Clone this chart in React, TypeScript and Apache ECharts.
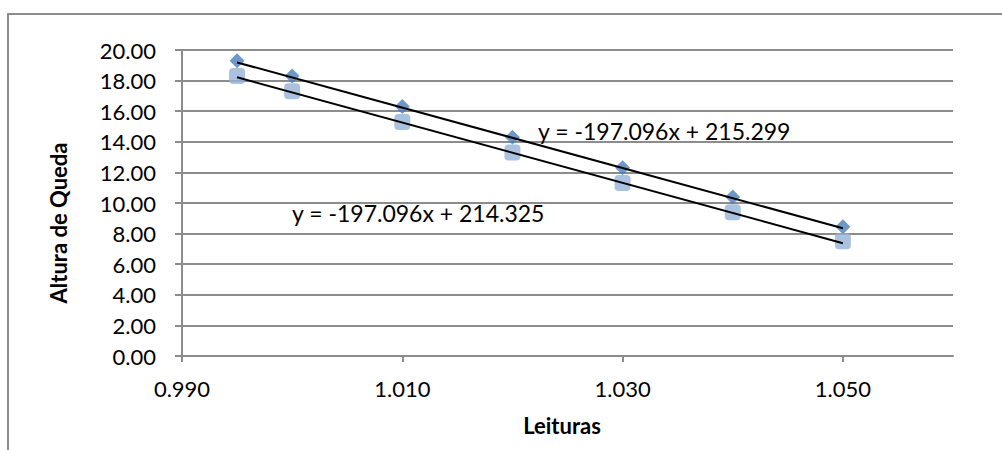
import React, { useEffect, useRef } from "react";
import * as echarts from "echarts";

const leituras = [0.995, 1.0, 1.01, 1.02, 1.03, 1.04, 1.05];
const alturaA = [19.3, 18.3, 16.3, 14.3, 12.3, 10.4, 8.45];
const alturaB = [18.3, 17.3, 15.3, 13.3, 11.3, 9.4, 7.5];
const trendA = { slope: -197.096, intercept: 215.299 };
const trendB = { slope: -197.096, intercept: 214.325 };
const xTickValues = [0.99, 1.01, 1.03, 1.05];
const xRange = [0.99, 1.06];
const yRange = [0, 20];
const yStep = 2;
const xTitle = "Leituras";
const yTitle = "Altura de Queda";

const FONT = "Lato, 'Open Sans', sans-serif";
const GRAY = "#8c8c8c";

const eqText = (t: { slope: number; intercept: number }) =>
  `y = ${t.slope.toFixed(3)}x + ${t.intercept.toFixed(3)}`;

const trendData = (t: { slope: number; intercept: number }) => {
  const x0 = leituras[0];
  const x1 = leituras[leituras.length - 1];
  return [
    [x0, t.slope * x0 + t.intercept],
    [x1, t.slope * x1 + t.intercept],
  ];
};

export default function App() {
  const ref = useRef<HTMLDivElement>(null);
  useEffect(() => {
    if (!ref.current) return;
    const chart = echarts.init(ref.current, undefined, { renderer: "svg" });
    chart.setOption({
      animation: false,
      backgroundColor: "#ffffff",
      grid: { left: 182, right: 49, top: 50, bottom: 94, containLabel: false },
      xAxis: {
        type: "value",
        min: xRange[0],
        max: xRange[1],
        splitLine: { show: false },
        axisLine: { show: true, lineStyle: { color: GRAY, width: 2 } },
        axisTick: {
          show: true,
          customValues: xTickValues,
          length: 6,
          lineStyle: { color: GRAY, width: 2 },
        },
        axisLabel: {
          customValues: xTickValues,
          formatter: (v: number) => v.toFixed(3),
          color: "#000",
          fontFamily: FONT,
          fontSize: 22,
          margin: 21,
        },
      },
      yAxis: {
        type: "value",
        min: yRange[0],
        max: yRange[1],
        interval: yStep,
        splitLine: { show: true, lineStyle: { color: GRAY, width: 2 } },
        axisLine: { show: true, lineStyle: { color: GRAY, width: 2 } },
        axisTick: { show: true, length: 7, lineStyle: { color: GRAY, width: 2 } },
        axisLabel: {
          formatter: (v: number) => v.toFixed(2),
          color: "#000",
          fontFamily: FONT,
          fontSize: 22,
          margin: 26,
        },
      },
      series: [
        {
          type: "scatter",
          name: "A",
          symbol: "diamond",
          symbolSize: 15,
          itemStyle: { color: "#4A7EBB" },
          data: leituras.map((x, i) => [x, alturaA[i]]),
          z: 2,
        },
        {
          type: "scatter",
          name: "B",
          symbol: "roundRect",
          symbolSize: 16,
          itemStyle: { color: "#95B3D7" },
          data: leituras.map((x, i) => [x, alturaB[i]]),
          z: 2,
        },
        {
          type: "line",
          data: trendData(trendA),
          symbol: "none",
          lineStyle: { color: "#000", width: 2 },
          z: 3,
        },
        {
          type: "line",
          data: trendData(trendB),
          symbol: "none",
          lineStyle: { color: "#000", width: 2 },
          z: 3,
        },
      ],
      graphic: [
        {
          type: "rect",
          shape: { x: 8, y: 14, width: 1100, height: 600 },
          style: { fill: "none", stroke: GRAY, lineWidth: 2 },
          silent: true,
          z: -1,
        },
        {
          type: "text",
          x: 58,
          y: 223,
          rotation: Math.PI / 2,
          style: {
            text: yTitle,
            fill: "#000",
            fontFamily: FONT,
            fontWeight: "bold",
            fontSize: 22,
            align: "center",
            verticalAlign: "middle",
          },
        },
        {
          type: "text",
          x: 562,
          y: 425,
          style: {
            text: xTitle,
            fill: "#000",
            fontFamily: FONT,
            fontWeight: "bold",
            fontSize: 22,
            align: "center",
            verticalAlign: "middle",
          },
        },
        {
          type: "text",
          x: 538,
          y: 131,
          style: {
            text: eqText(trendA),
            fill: "#000",
            fontFamily: FONT,
            fontSize: 23,
            align: "left",
            verticalAlign: "middle",
          },
          z: 10,
        },
        {
          type: "text",
          x: 292,
          y: 213,
          style: {
            text: eqText(trendB),
            fill: "#000",
            fontFamily: FONT,
            fontSize: 23,
            align: "left",
            verticalAlign: "middle",
          },
          z: 10,
        },
      ],
    });
    return () => chart.dispose();
  }, []);
  return (
    <div
      ref={ref}
      style={{ position: "absolute", left: 0, top: 0, width: 1002, height: 450 }}
    />
  );
}
